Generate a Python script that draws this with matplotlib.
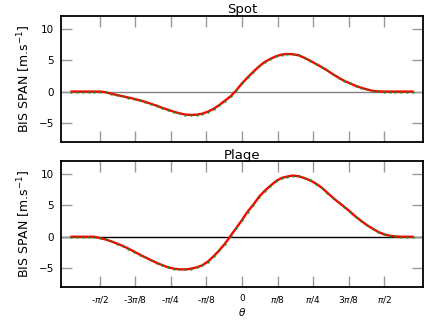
import numpy as np
import matplotlib
matplotlib.use("Agg")
import matplotlib.pyplot as plt

# rotational phase (degrees) of the sampled points
phase_deg = [-108.0, -104.4, -100.8, -97.2, -93.6, -90.0, -86.4, -82.8, -79.2, -75.6,
             -72.0, -68.4, -64.8, -61.2, -57.6, -54.0, -50.4, -46.8, -43.2, -39.6,
             -36.0, -32.4, -28.8, -25.2, -21.6, -18.0, -14.4, -10.8, -7.2, -3.6,
             0.0, 3.6, 7.2, 10.8, 14.4, 18.0, 21.6, 25.2, 28.8, 32.4,
             36.0, 39.6, 43.2, 46.8, 50.4, 54.0, 57.6, 61.2, 64.8, 68.4,
             72.0, 75.6, 79.2, 82.8, 86.4, 90.0, 93.6, 97.2, 100.8, 104.4, 108.0]

spot_bis = [0.0, 0.0, 0.0, 0.0, 0.0, 0.0, -0.1, -0.35, -0.55, -0.75,
            -0.95, -1.15, -1.4, -1.65, -1.95, -2.25, -2.6, -2.9, -3.2, -3.45,
            -3.65, -3.72, -3.68, -3.52, -3.2, -2.75, -2.15, -1.45, -0.75, 0.2,
            1.3, 2.25, 3.15, 4.0, 4.7, 5.2, 5.6, 5.88, 5.97, 5.92,
            5.75, 5.35, 4.9, 4.4, 3.9, 3.35, 2.75, 2.2, 1.7, 1.3,
            0.9, 0.6, 0.33, 0.12, 0.02, 0.0, 0.0, 0.0, 0.0, 0.0, 0.0]

plage_bis = [0.0, 0.0, 0.0, 0.0, 0.0, -0.2, -0.43, -0.73, -1.08, -1.45,
             -1.87, -2.35, -2.83, -3.28, -3.72, -4.15, -4.52, -4.85, -5.07, -5.17,
             -5.2, -5.08, -4.87, -4.55, -3.95, -3.1, -2.17, -1.1, 0.15, 1.4,
             2.65, 4.0, 5.1, 6.35, 7.3, 8.1, 8.85, 9.35, 9.57, 9.72,
             9.6, 9.32, 8.95, 8.45, 7.82, 7.0, 6.2, 5.45, 4.75, 4.0,
             3.2, 2.5, 1.83, 1.28, 0.75, 0.38, 0.17, 0.05, 0.0, 0.0, 0.0]

tick_pos = [-4, -3, -2, -1, 0, 1, 2, 3, 4]  # in units of pi/8
tick_labels = ['-$\\pi$/2', '-3$\\pi$/8', '-$\\pi$/4', '-$\\pi$/8', '0',
               '$\\pi$/8', '$\\pi$/4', '3$\\pi$/8', '$\\pi$/2']

theta = np.deg2rad(phase_deg)

fig = plt.figure(figsize=(4.36, 3.27), dpi=100)
ax1 = fig.add_axes([0.140, 0.566, 0.830, 0.385])
ax2 = fig.add_axes([0.140, 0.122, 0.830, 0.385])

fs = 7.5
panels = [(ax1, spot_bis, "Spot", "0.5"), (ax2, plage_bis, "Plage", "k")]
for ax, bis, name, zcol in panels:
    ax.axhline(0, color=zcol, linewidth=1.0, zorder=1)
    ax.plot(theta, bis, color="red", linewidth=1.7, zorder=2)
    ax.plot(theta, bis, linestyle="none", marker="o", markersize=1.7,
            markeredgewidth=0, color="#1f8a1f", zorder=3)
    ax.set_xlim(-2, 2)
    ax.set_ylim(-8, 12)
    ax.set_yticks([-5, 0, 5, 10])
    ax.set_xticks(np.array(tick_pos) * np.pi / 8)
    ax.set_title(name, fontsize=9.5, pad=1.5)
    ax.set_ylabel("BIS SPAN [m.s$^{-1}$]", fontsize=9, labelpad=4)
    ax.tick_params(direction="in", length=8, width=1, color="0.6",
                   top=True, right=True, labelsize=fs, pad=5)
    for sp in ax.spines.values():
        sp.set_linewidth(1.3)

ax1.set_xticklabels([])
ax2.set_xticklabels(tick_labels, fontsize=6.5)
ax2.set_xlabel("$\\theta$", fontsize=7.5, labelpad=1)

fig.savefig("out.png", dpi=100)
